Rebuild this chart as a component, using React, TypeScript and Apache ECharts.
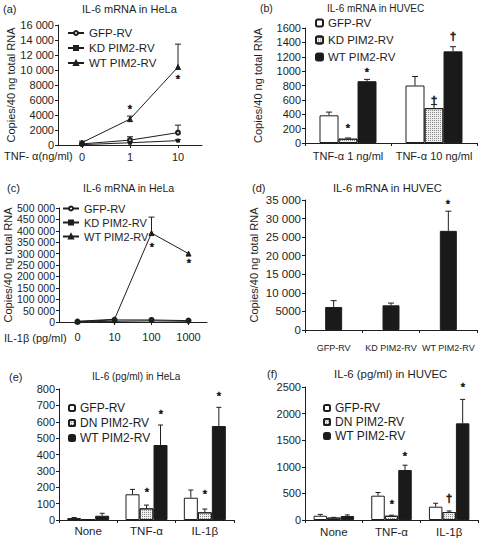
import React, { useEffect, useRef } from 'react';
import * as echarts from 'echarts';

const FONT = "'Liberation Sans', Arial, sans-serif";
const INK = '#1e1e1e';

// (a) IL-6 mRNA in HeLa, TNF-α dose
const aCategories = ['0', '1', '10'];
const aGfp = [150, 650, 1650];
const aGfpSd = [60, 450, 1000];
const aKd = [50, 300, 580];
const aKdSd = [20, 90, 130];
const aWt = [320, 3450, 10400];
const aWtSd = [200, 400, 3050];
const aMarks: [number, number, number, string][] = [[1, 0, 5070, '*'], [2, 0, 9100, '*']];

// (b) IL-6 mRNA in HUVEC
const bCategories = ['TNF-α 1 ng/ml', 'TNF-α 10 ng/ml'];
const bGfp = [385, 800];
const bGfpSd = [45, 125];
const bKd = [60, 485];
const bKdSd = [10, 50];
const bWt = [860, 1275];
const bWtSd = [25, 65];
const bMarks: [number, number, number, string][] = [[0, 1, 247, '*'], [0, 2, 1017, '*'], [1, 1, 597, '†'], [1, 2, 1483, '†']];

// (c) IL-6 mRNA in HeLa, IL-1β dose
const cCategories = ['0', '10', '100', '1000'];
const cGfp = [2000, 9000, 9000, 6000];
const cKd = [1000, 3000, 5000, 3000];
const cWt = [3000, 12000, 390000, 300000];
const cWtSd = [0, 0, 70000, 0];
const cMarks: [number, number, number, string][] = [[2, 0, 339000, '*'], [3, 0, 269000, '*']];

// (d) IL-6 mRNA in HUVEC
const dCategories = ['GFP-RV', 'KD PIM2-RV', 'WT PIM2-RV'];
const dValues = [6200, 6650, 26700];
const dSd = [1700, 600, 5300];
const dMarks: [number, number, number, string][] = [[2, 0, 34500, '*']];

// (e) IL-6 (pg/ml) in HeLa
const eCategories = ['None', 'TNF-α', 'IL-1β'];
const eGfp = [12, 157, 136];
const eGfpSd = [3, 30, 47];
const eDn = [5, 71, 47];
const eDnSd = [0, 20, 20];
const eWt = [26, 458, 574];
const eWtSd = [15, 122, 114];
const eMarks: [number, number, number, string][] = [[1, 1, 183, '*'], [1, 2, 661, '*'], [2, 1, 172, '*'], [2, 2, 774, '*']];

// (f) IL-6 (pg/ml) in HUVEC
const fCategories = ['None', 'TNF-α', 'IL-1β'];
const fGfp = [80, 457, 250];
const fGfpSd = [25, 60, 65];
const fDn = [45, 80, 150];
const fDnSd = [5, 10, 20];
const fWt = [75, 940, 1817];
const fWtSd = [20, 90, 450];
const fMarks: [number, number, number, string][] = [[1, 1, 344, '*'], [1, 2, 1254, '*'], [2, 1, 408, '†'], [2, 2, 2538, '*']];

const fmt = (v: number) =>
  v >= 10000 ? String(v).replace(/\B(?=(\d{3})+(?!\d))/g, ' ') : String(v);

const hatch = {
  color: '#eeeeee',
  borderColor: INK,
  borderWidth: 1,
  decal: {
    symbol: 'rect',
    symbolSize: 1,
    color: 'rgba(70,70,70,0.6)',
    dashArrayX: [1, 1],
    dashArrayY: [1, 1],
    rotation: 0,
  },
};
const whiteBar = { color: '#ffffff', borderColor: INK, borderWidth: 1 };
const blackBar = { color: '#1a1a1a', borderColor: INK, borderWidth: 1 };

function errorSeries(grid: number, means: number[], sds: number[], slot: number, slots: number, barW: number, cap: number) {
  return {
    type: 'custom',
    xAxisIndex: grid,
    yAxisIndex: grid,
    z: 5,
    silent: true,
    itemStyle: { color: INK },
    encode: { x: 0, y: 1 },
    data: means.map((m, i) => [i, m, sds[i]]),
    renderItem: (params: any, api: any) => {
      const c = api.value(0);
      const m = api.value(1);
      const s = api.value(2);
      if (!s) return null;
      const p0 = api.coord([c, m]);
      const p1 = api.coord([c, m + s]);
      const x = p0[0] + (slot - (slots - 1) / 2) * barW;
      return {
        type: 'group',
        children: [
          { type: 'line', shape: { x1: x, y1: p0[1], x2: x, y2: p1[1] }, style: { stroke: INK, lineWidth: 1 } },
          { type: 'line', shape: { x1: x - cap, y1: p1[1], x2: x + cap, y2: p1[1] }, style: { stroke: INK, lineWidth: 1 } },
        ],
      };
    },
  };
}

function markSeries(grid: number, marks: [number, number, number, string][], slots: number, barW: number, fontSize: number) {
  return {
    type: 'custom',
    xAxisIndex: grid,
    yAxisIndex: grid,
    z: 6,
    silent: true,
    itemStyle: { color: INK },
    encode: { x: 0, y: 1 },
    data: marks.map((m) => [m[0], m[2]]),
    renderItem: (params: any, api: any) => {
      const m = marks[params.dataIndex];
      const p = api.coord([api.value(0), api.value(1)]);
      const x = p[0] + (m[1] - (slots - 1) / 2) * barW;
      const star = m[3] === '*';
      const dy = star ? fontSize * 0.22 : 0;
      return {
        type: 'text',
        x: Math.round(x),
        y: Math.round(p[1] + dy),
        style: {
          text: m[3],
          fill: INK,
          stroke: INK,
          lineWidth: 0.6,
          fontSize,
          fontFamily: FONT,
          align: 'center',
          verticalAlign: 'middle',
        },
      };
    },
  };
}

function lineSeries(grid: number, name: string, data: number[], symbol: string, size: number) {
  return {
    type: 'line',
    name,
    xAxisIndex: grid,
    yAxisIndex: grid,
    data,
    symbol,
    symbolSize: size,
    z: 4,
    lineStyle: { color: INK, width: 1 },
    itemStyle: { color: INK, borderColor: INK, borderWidth: 1 },
  };
}

function barSeries(grid: number, name: string, data: number[], style: any, barW: number) {
  return {
    type: 'bar',
    name,
    xAxisIndex: grid,
    yAxisIndex: grid,
    data,
    barWidth: barW,
    barGap: '0%',
    itemStyle: style,
  };
}

function yAxis(grid: number, max: number, interval: number, fs: number, name?: string, nameGap?: number) {
  return {
    type: 'value',
    gridIndex: grid,
    min: 0,
    max,
    interval,
    name: name || '',
    nameLocation: 'middle',
    nameGap: nameGap || 0,
    nameTextStyle: { color: INK, fontFamily: FONT, fontSize: 11 },
    axisLine: { show: true, lineStyle: { color: INK, width: 1 } },
    axisTick: { show: true, length: 3, lineStyle: { color: INK } },
    axisLabel: { color: INK, fontFamily: FONT, fontSize: fs, margin: 4, formatter: fmt },
    splitLine: { show: false },
  };
}

function xAxis(grid: number, data: string[], fs: number, margin: number, align: boolean) {
  return {
    type: 'category',
    gridIndex: grid,
    data,
    axisLine: { show: true, lineStyle: { color: INK, width: 1 } },
    axisTick: { show: true, length: 3, alignWithLabel: align, lineStyle: { color: INK } },
    axisLabel: { color: INK, fontFamily: FONT, fontSize: fs, margin, interval: 0 },
    splitLine: { show: false },
  };
}

const legendFmt = (n: string) => n.split(':')[1];

function legend(left: number, top: number, names: string[], gap: number, iw: number, ih: number, fs: number) {
  return {
    left,
    top,
    orient: 'vertical',
    padding: 0,
    itemGap: gap,
    itemWidth: iw,
    itemHeight: ih,
    selectedMode: false,
    data: names,
    formatter: legendFmt,
    textStyle: { color: INK, fontFamily: FONT, fontSize: fs },
  };
}

function title(text: string, left: number, top: number, fs: number) {
  return {
    text,
    left,
    top,
    padding: 0,
    textStyle: { color: INK, fontFamily: FONT, fontSize: fs, fontWeight: 'normal' },
  };
}

export default function App() {
  const ref = useRef<HTMLDivElement>(null);
  useEffect(() => {
    if (!ref.current) return;
    const chart = echarts.init(ref.current, undefined, { renderer: 'svg' });
    const yName = 'Copies/40 ng total RNA';
    const option: any = {
      animation: false,
      backgroundColor: '#ffffff',
      color: [INK],
      title: [
        title('(a)', 3, 3, 11),
        title('IL-6 mRNA in HeLa', 82, 3, 11),
        title('(b)', 260, 2, 10.5),
        title('IL-6 mRNA in HUVEC', 327, 3, 10),
        title('(c)', 7, 182, 11),
        title('IL-6 mRNA in HeLa', 83, 182, 10.6),
        title('(d)', 252, 182, 11),
        title('IL-6 mRNA in HUVEC', 333, 182, 11.2),
        title('(e)', 9, 371, 11),
        title('IL-6 (pg/ml) in HeLa', 92, 371, 10),
        title('(f)', 267, 368, 11),
        title('IL-6 (pg/ml) in HUVEC', 334, 368, 11.4),
      ],
      legend: [
        legend(67, 27, ['a:GFP-RV', 'a:KD PIM2-RV', 'a:WT PIM2-RV'], 3, 16, 5, 11.5),
        legend(315, 17, ['b:GFP-RV', 'b:KD PIM2-RV', 'b:WT PIM2-RV'], 5, 7, 7, 11.5),
        legend(62, 203, ['c:GFP-RV', 'c:KD PIM2-RV', 'c:WT PIM2-RV'], 3, 16, 5, 11),
        legend(68, 402, ['e:GFP-RV', 'e:DN PIM2-RV', 'e:WT PIM2-RV'], 3, 6, 6, 12),
        legend(323, 402, ['f:GFP-RV', 'f:DN PIM2-RV', 'f:WT PIM2-RV'], 2, 6, 6, 12),
      ],
      grid: [
        { left: 58, top: 25, width: 144, height: 120 },
        { left: 305, top: 28, width: 172, height: 115 },
        { left: 59, top: 208, width: 148, height: 114 },
        { left: 305, top: 200, width: 172, height: 130 },
        { left: 59, top: 389, width: 175, height: 131 },
        { left: 305, top: 387, width: 173, height: 133 },
      ],
      xAxis: [
        xAxis(0, aCategories, 11, 6, true),
        xAxis(1, bCategories, 11, 7, false),
        xAxis(2, cCategories, 11, 9, true),
        xAxis(3, dCategories, 9, 13, false),
        xAxis(4, eCategories, 11.5, 5, false),
        xAxis(5, fCategories, 11.5, 6, false),
      ],
      yAxis: [
        yAxis(0, 16000, 2000, 11, yName, 38),
        yAxis(1, 1600, 200, 11, yName, 42),
        yAxis(2, 500000, 50000, 10.5, yName, 40),
        yAxis(3, 35000, 5000, 11.5, yName, 46),
        yAxis(4, 800, 100, 11),
        yAxis(5, 2500, 500, 11),
      ],
      graphic: [
        { type: 'text', x: 4, y: 156, style: { text: 'TNF- α(ng/ml)', fill: INK, fontFamily: FONT, fontSize: 11, verticalAlign: 'middle' } },
        { type: 'text', x: 4, y: 338, style: { text: 'IL-1β (pg/ml)', fill: INK, fontFamily: FONT, fontSize: 11, verticalAlign: 'middle' } },
      ],
      series: [
        // (a)
        lineSeries(0, 'a:GFP-RV', aGfp, 'emptyCircle', 4),
        lineSeries(0, 'a:KD PIM2-RV', aKd, 'rect', 3),
        lineSeries(0, 'a:WT PIM2-RV', aWt, 'triangle', 5),
        errorSeries(0, aGfp, aGfpSd, 0, 1, 0, 3),
        errorSeries(0, aKd, aKdSd, 0, 1, 0, 3),
        errorSeries(0, aWt, aWtSd, 0, 1, 0, 3),
        markSeries(0, aMarks, 1, 0, 11),
        // (b)
        barSeries(1, 'b:GFP-RV', bGfp, whiteBar, 19),
        barSeries(1, 'b:KD PIM2-RV', bKd, hatch, 19),
        barSeries(1, 'b:WT PIM2-RV', bWt, blackBar, 19),
        errorSeries(1, bGfp, bGfpSd, 0, 3, 19, 3),
        errorSeries(1, bKd, bKdSd, 1, 3, 19, 3),
        errorSeries(1, bWt, bWtSd, 2, 3, 19, 3),
        markSeries(1, bMarks, 3, 19, 11),
        // (c)
        lineSeries(2, 'c:GFP-RV', cGfp, 'emptyCircle', 4),
        lineSeries(2, 'c:KD PIM2-RV', cKd, 'rect', 3),
        lineSeries(2, 'c:WT PIM2-RV', cWt, 'triangle', 5),
        errorSeries(2, cWt, cWtSd, 0, 1, 0, 3),
        markSeries(2, cMarks, 1, 0, 11),
        // (d)
        barSeries(3, 'd:IL-6', dValues, blackBar, 17),
        errorSeries(3, dValues, dSd, 0, 1, 17, 3),
        markSeries(3, dMarks, 1, 17, 11),
        // (e)
        barSeries(4, 'e:GFP-RV', eGfp, whiteBar, 14),
        barSeries(4, 'e:DN PIM2-RV', eDn, hatch, 14),
        barSeries(4, 'e:WT PIM2-RV', eWt, blackBar, 14),
        errorSeries(4, eGfp, eGfpSd, 0, 3, 14, 2.5),
        errorSeries(4, eDn, eDnSd, 1, 3, 14, 2.5),
        errorSeries(4, eWt, eWtSd, 2, 3, 14, 2.5),
        markSeries(4, eMarks, 3, 14, 11),
        // (f)
        barSeries(5, 'f:GFP-RV', fGfp, whiteBar, 13.5),
        barSeries(5, 'f:DN PIM2-RV', fDn, hatch, 13.5),
        barSeries(5, 'f:WT PIM2-RV', fWt, blackBar, 13.5),
        errorSeries(5, fGfp, fGfpSd, 0, 3, 13.5, 2.5),
        errorSeries(5, fDn, fDnSd, 1, 3, 13.5, 2.5),
        errorSeries(5, fWt, fWtSd, 2, 3, 13.5, 2.5),
        markSeries(5, fMarks, 3, 13.5, 11),
      ],
    };
    chart.setOption(option);
    return () => chart.dispose();
  }, []);
  return (
    <div
      ref={ref}
      style={{ position: 'fixed', left: 0, top: 0, width: 480, height: 539, background: '#ffffff' }}
    />
  );
}
